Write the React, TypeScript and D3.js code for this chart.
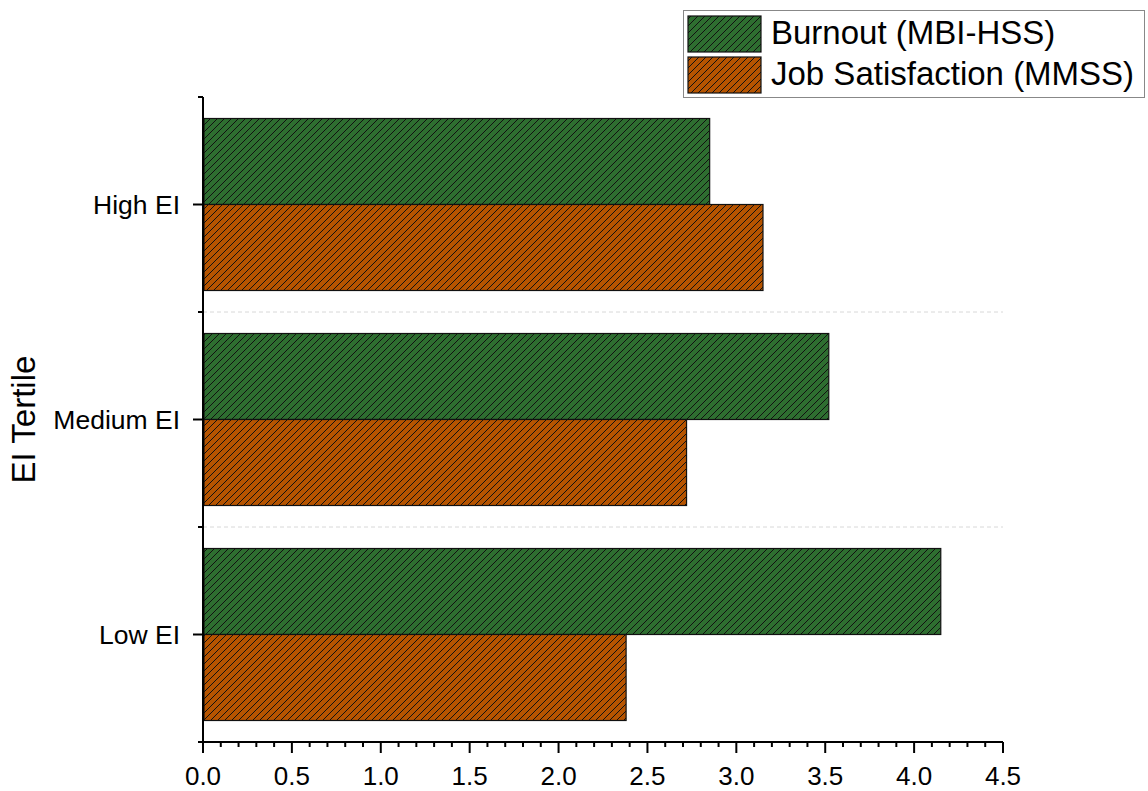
import React, { useEffect, useRef } from "react";
import * as d3 from "d3";

// tertile groups, top to bottom
const categories = ["High EI", "Medium EI", "Low EI"];
const seriesNames = ["Burnout (MBI-HSS)", "Job Satisfaction (MMSS)"];
const burnout = [2.85, 3.52, 4.15];
const jobSatisfaction = [3.15, 2.72, 2.38];
const xTicks = [0, 0.5, 1, 1.5, 2, 2.5, 3, 3.5, 4, 4.5];
const colors = ["#2e6e30", "#b65400"];

const W = 1148, H = 791;
const FONT = "'Liberation Sans', Arial, sans-serif";

export default function App() {
  const ref = useRef<SVGSVGElement>(null);

  useEffect(() => {
    const svg = d3.select(ref.current);
    svg.selectAll("*").remove();

    const left = 203, right = 1003, top = 97, bottom = 742;
    const x = d3.scaleLinear().domain([0, 4.5]).range([left, right]);
    const y = d3.scaleBand().domain(categories).range([top, bottom])
      .paddingInner(0.2).paddingOuter(0.1);
    const ySub = d3.scaleBand().domain(seriesNames).range([0, y.bandwidth()]);

    // hatch patterns
    const defs = svg.append("defs");
    colors.forEach((c, i) => {
      const s = 7;
      const p = defs.append("pattern").attr("id", "hatch" + i)
        .attr("patternUnits", "userSpaceOnUse").attr("width", s).attr("height", s);
      p.append("rect").attr("width", s).attr("height", s).attr("fill", c);
      p.append("path").attr("d", `M-2,2 L2,-2 M0,${s} L${s},0 M${s - 2},${s + 2} L${s + 2},${s - 2}`)
        .attr("stroke", "#111").attr("stroke-width", 1);
    });

    // dashed separators between categories
    const step = y.step();
    [1, 2].forEach(k => {
      const yy = top + step * k;
      svg.append("line").attr("x1", left).attr("x2", right).attr("y1", yy).attr("y2", yy)
        .attr("stroke", "#d8d8d8").attr("stroke-dasharray", "4,3");
    });

    const data = categories.map((c, i) => ({ cat: c, vals: [burnout[i], jobSatisfaction[i]] }));
    const g = svg.append("g");
    data.forEach(d => {
      d.vals.forEach((v, si) => {
        g.append("rect")
          .attr("x", x(0) + 1)
          .attr("y", (y(d.cat) as number) + (ySub(seriesNames[si]) as number))
          .attr("width", x(v) - x(0) - 1)
          .attr("height", ySub.bandwidth())
          .attr("fill", `url(#hatch${si})`)
          .attr("stroke", "#111").attr("stroke-width", 1.2);
      });
    });

    // x axis
    const xAxis = svg.append("g").attr("transform", `translate(0,${bottom})`);
    xAxis.append("line").attr("x1", left).attr("x2", right).attr("stroke", "#000").attr("stroke-width", 2);
    d3.range(0, 45.5, 1).forEach(k => {
      const v = k / 10;
      const major = k % 5 === 0;
      xAxis.append("line").attr("x1", x(v)).attr("x2", x(v)).attr("y1", 0).attr("y2", major ? 11 : 5)
        .attr("stroke", "#000").attr("stroke-width", 2);
    });
    xAxis.selectAll("text.tick").data(xTicks).join("text")
      .attr("x", d => x(d)).attr("y", 43)
      .attr("text-anchor", "middle").attr("font-family", FONT).attr("font-size", 26)
      .text(d => d.toFixed(1));

    // y axis
    const yAxis = svg.append("g");
    yAxis.append("line").attr("x1", left).attr("x2", left).attr("y1", top).attr("y2", bottom)
      .attr("stroke", "#000").attr("stroke-width", 2);
    [0, 1, 2, 3].forEach(k => {
      const yy = top + step * k;
      yAxis.append("line").attr("x1", left - 5).attr("x2", left).attr("y1", yy).attr("y2", yy)
        .attr("stroke", "#000").attr("stroke-width", 2);
    });
    categories.forEach(c => {
      const yy = (y(c) as number) + y.bandwidth() / 2;
      yAxis.append("line").attr("x1", left - 10).attr("x2", left).attr("y1", yy).attr("y2", yy)
        .attr("stroke", "#000").attr("stroke-width", 2);
      yAxis.append("text").attr("x", 180).attr("y", yy).attr("dy", "0.35em")
        .attr("text-anchor", "end").attr("font-family", FONT).attr("font-size", 26.5).text(c);
    });
    svg.append("text").attr("transform", `translate(35,${(top + bottom) / 2}) rotate(-90)`)
      .attr("text-anchor", "middle").attr("font-family", FONT).attr("font-size", 33).text("EI Tertile");

    // legend
    const lg = svg.append("g");
    lg.append("rect").attr("x", 683.5).attr("y", 10.5).attr("width", 461).attr("height", 87)
      .attr("fill", "#fff").attr("stroke", "#888").attr("stroke-width", 1);
    seriesNames.forEach((s, i) => {
      const yy = 16 + i * 41;
      lg.append("rect").attr("x", 688).attr("y", yy).attr("width", 73).attr("height", 36)
        .attr("fill", `url(#hatch${i})`).attr("stroke", "#111").attr("stroke-width", 1.2);
      lg.append("text").attr("x", 771).attr("y", yy + 28)
        .attr("font-family", FONT).attr("font-size", 33).text(s);
    });
  }, []);

  return <svg ref={ref} width={W} height={H} style={{ display: "block", position: "absolute", left: 0, top: 0 }} />;
}
